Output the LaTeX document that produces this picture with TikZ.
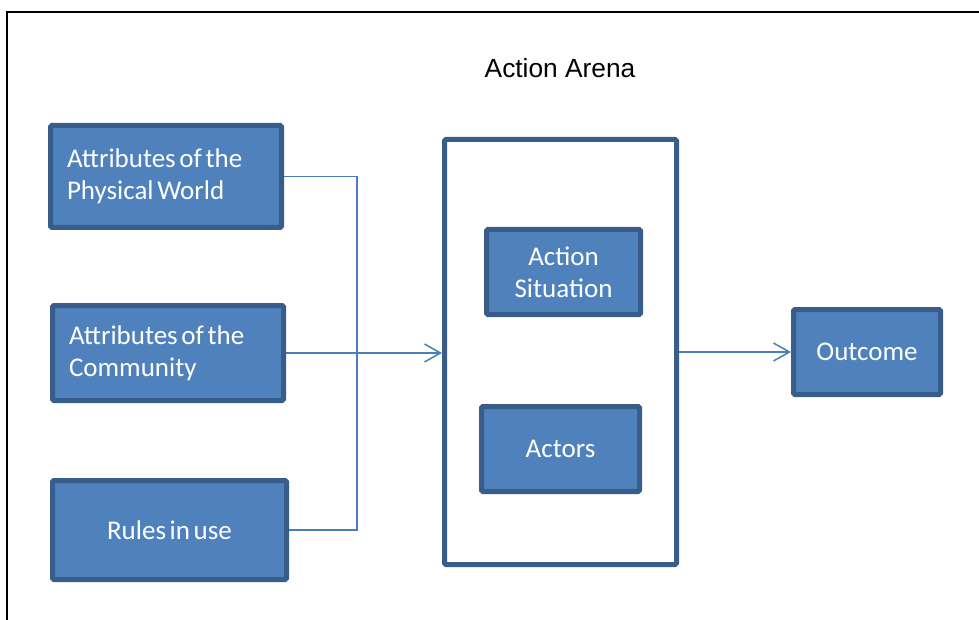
\documentclass[tikz,border=0pt]{standalone}
\usepackage{fontspec}
\setmainfont{Carlito}[WordSpace=0.6]
\newfontfamily\arialfont{Liberation Sans}
\usetikzlibrary{arrows.meta}
\definecolor{boxfill}{HTML}{4F81BD}
\definecolor{boxline}{HTML}{385D8A}
\definecolor{conn}{HTML}{4A7EBB}
\newcommand\tightsp{\spaceskip=0.136em\relax\xspaceskip=0.136em\relax}
\begin{document}
\begin{tikzpicture}[x=1pt,y=-1pt,
  bluebox/.style={draw=boxline, fill=boxfill, line width=5pt, rounded corners=1.5pt,
    text=white, font=\fontsize{27}{32}\selectfont, inner sep=0pt, align=center},
  leftbox/.style={bluebox, align=left, inner xsep=16.5pt, text width=#1},
  arenabox/.style={draw=boxline, fill=white, line width=5pt, rounded corners=1.5pt, inner sep=0pt},
  connline/.style={draw=conn, line width=1.5pt},
  connarrow/.style={connline, -{Straight Barb[length=16pt,width=18pt]}}
]
\useasboundingbox (0,0) rectangle (979,620);
\fill[white] (0,0) rectangle (979,620);
% outer frame
\coordinate (frTR) at (979,12);
\coordinate (frTL) at (7,12);
\coordinate (frBL) at (7,620);
\draw[black, line width=2pt] (frTR) -- (frTL) -- (frBL);

\node[font=\arialfont\fontsize{26.3}{30}\selectfont] (title) at (560,68) {Action Arena};

\node[leftbox=198pt, minimum width=231pt, minimum height=102pt] (b1) at (166,176.5)
  {\tightsp Attributes of the\\Physical World};
\node[leftbox=198pt, minimum width=231pt, minimum height=95pt] (b2) at (168,353)
  {\tightsp Attributes of the\\Community};
\node[bluebox, minimum width=234pt, minimum height=99pt] (b3) at (169.5,530) {Rules in use};

\node[arenabox, minimum width=232pt, minimum height=425pt] (arena) at (560.5,352) {};
\node[bluebox, minimum width=154pt, minimum height=85pt] (as) at (563.5,272) {Action\\Situation};
\node[bluebox, minimum width=158pt, minimum height=85pt] (actors) at (560.5,449) {Actors};
\node[bluebox, minimum width=147pt, minimum height=85pt] (out) at (867,352) {Outcome};

\coordinate (jt) at (357,176.5);
\coordinate (jb) at (357,530);
\draw[connline] (b1.east) -- (jt) -- (jb) -- (b3.east);
\draw[connarrow] (b2.east) -- (b2.east -| arena.west);
\draw[connarrow] (arena.east) -- (out.west);
\end{tikzpicture}
\end{document}
